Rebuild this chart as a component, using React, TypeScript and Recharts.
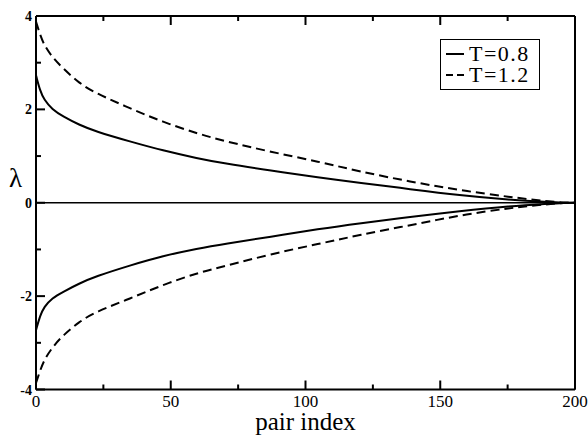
import {
  Legend,
  Line,
  LineChart,
  ReferenceLine,
  XAxis,
  YAxis,
} from "recharts";

// pair index positions sampled along the curves
const pairIndex = [0, 1.5, 3, 6, 10, 16, 22, 35, 47, 60, 70, 87, 105, 120, 139, 157, 176, 190, 196, 200];
const t08Upper = [2.73, 2.4, 2.21, 2.0, 1.85, 1.67, 1.53, 1.31, 1.12, 0.95, 0.84, 0.69, 0.54, 0.43, 0.29, 0.16, 0.06, 0.015, 0, 0];
const t12Upper = [3.88, 3.6, 3.38, 3.12, 2.88, 2.56, 2.35, 2.02, 1.73, 1.48, 1.32, 1.09, 0.88, 0.67, 0.45, 0.27, 0.12, 0.03, 0, 0];
const t08Lower = [-2.73, -2.42, -2.23, -2.04, -1.91, -1.73, -1.58, -1.34, -1.14, -0.98, -0.88, -0.73, -0.56, -0.44, -0.3, -0.18, -0.07, -0.02, 0, 0];
const t12Lower = [-3.86, -3.6, -3.37, -3.1, -2.84, -2.55, -2.34, -2.05, -1.76, -1.5, -1.36, -1.1, -0.88, -0.69, -0.48, -0.27, -0.11, -0.03, 0, 0];

const xTicks = [0, 25, 50, 75, 100, 125, 150, 175, 200];
const yTicks = [-4, -3, -2, -1, 0, 1, 2, 3, 4];
const legendItems = [
  { label: "T=0.8", dash: undefined as string | undefined },
  { label: "T=1.2", dash: "7 4" },
];

const data = pairIndex.map((x, i) => ({
  x,
  a: t08Upper[i],
  b: t12Upper[i],
  c: t08Lower[i],
  d: t12Lower[i],
}));

const FONT = "Liberation Serif, DejaVu Serif, serif";
const M = 5; // tick margin
const DASH = "9 5";

// ticks point into the plot, so they are drawn by hand from the axis position
function BottomTick(props: any) {
  const { x, y, payload } = props;
  const v = payload.value;
  const major = v % 50 === 0;
  const ay = y - M;
  return (
    <g>
      <line x1={x} x2={x} y1={ay} y2={ay - (major ? 9 : 5)} stroke="#000" strokeWidth={2} />
      {major && (
        <text x={x} y={y} dy="0.71em" textAnchor="middle" style={{ fontFamily: FONT }} fontSize={17} fill="#000">
          {v}
        </text>
      )}
    </g>
  );
}

function TopTick(props: any) {
  const { x, y, payload } = props;
  const major = payload.value % 50 === 0;
  const ay = y + M;
  return <line x1={x} x2={x} y1={ay} y2={ay + (major ? 9 : 5)} stroke="#000" strokeWidth={2} />;
}

function LeftTick(props: any) {
  const { x, y, payload } = props;
  const v = payload.value;
  const major = v % 2 === 0;
  const ax = x + M;
  return (
    <g>
      <line x1={ax} x2={ax + (major ? 9 : 5)} y1={y} y2={y} stroke="#000" strokeWidth={2} />
      {major && (
        <text x={x + 1} y={y} dy="0.36em" textAnchor="end" style={{ fontFamily: FONT }} fontWeight="bold" fontSize={14} fill="#000">
          {v}
        </text>
      )}
    </g>
  );
}

function RightTick(props: any) {
  const { x, y, payload } = props;
  const major = payload.value % 2 === 0;
  const ax = x - M;
  return <line x1={ax} x2={ax - (major ? 9 : 5)} y1={y} y2={y} stroke="#000" strokeWidth={2} />;
}

function LegendBox() {
  return (
    <div
      style={{
        border: "1.5px solid #000",
        background: "#fff",
        padding: "3px 4px 4px 4px",
        fontFamily: FONT,
        fontSize: 22,
        color: "#000",
        width: 100,
        boxSizing: "border-box",
      }}
    >
      {legendItems.map((it) => (
        <div key={it.label} style={{ display: "flex", alignItems: "center", height: 21 }}>
          <svg width={20} height={20} style={{ marginRight: 4, flex: "none" }}>
            <line x1={1} x2={19} y1={10} y2={10} stroke="#000" strokeWidth={2} strokeDasharray={it.dash} />
          </svg>
          <span style={{ lineHeight: "21px", letterSpacing: 1.5, whiteSpace: "nowrap" }}>{it.label}</span>
        </div>
      ))}
    </div>
  );
}

export default function App() {
  return (
    <div style={{ position: "absolute", left: 0, top: 0, width: 588, height: 437, background: "#fff", fontFamily: FONT }}>
      <LineChart width={588} height={437} data={data} margin={{ top: 0, right: 0, bottom: 0, left: 0 }}>
        <XAxis
          dataKey="x"
          type="number"
          domain={[0, 200]}
          ticks={xTicks}
          height={47.5}
          tickSize={0}
          tickMargin={M}
          tickLine={false}
          axisLine={{ stroke: "#000", strokeWidth: 2 }}
          tick={<BottomTick />}
          interval={0}
          label={{ value: "pair index", position: "insideBottom", offset: 7, style: { fontFamily: FONT }, fontSize: 25, fill: "#000" }}
        />
        <XAxis
          xAxisId="top"
          orientation="top"
          dataKey="x"
          type="number"
          domain={[0, 200]}
          ticks={xTicks}
          height={16}
          tickSize={0}
          tickMargin={M}
          tickLine={false}
          axisLine={{ stroke: "#000", strokeWidth: 2 }}
          tick={<TopTick />}
          interval={0}
        />
        <YAxis
          type="number"
          domain={[-4, 4]}
          ticks={yTicks}
          width={36}
          tickSize={0}
          tickMargin={M}
          tickLine={false}
          axisLine={{ stroke: "#000", strokeWidth: 2 }}
          tick={<LeftTick />}
          interval={0}
          label={{ value: "λ", position: "insideLeft", offset: 9, dy: -25, style: { fontFamily: FONT }, fontSize: 27, fill: "#000" }}
        />
        <YAxis
          yAxisId="right"
          orientation="right"
          type="number"
          domain={[-4, 4]}
          ticks={yTicks}
          width={13}
          tickSize={0}
          tickMargin={M}
          tickLine={false}
          axisLine={{ stroke: "#000", strokeWidth: 2 }}
          tick={<RightTick />}
          interval={0}
        />
        <ReferenceLine y={0} stroke="#000" strokeWidth={1.5} />
        <Line dataKey="a" name="T=0.8" type="basis" stroke="#000" strokeWidth={2} dot={false} isAnimationActive={false} />
        <Line dataKey="b" name="T=1.2" type="basis" stroke="#000" strokeWidth={2} strokeDasharray={DASH} dot={false} isAnimationActive={false} />
        <Line dataKey="c" name="T=0.8 lower" legendType="none" type="basis" stroke="#000" strokeWidth={2} dot={false} isAnimationActive={false} />
        <Line dataKey="d" name="T=1.2 lower" legendType="none" type="basis" stroke="#000" strokeWidth={2} strokeDasharray={DASH} dot={false} isAnimationActive={false} />
        <Legend
          layout="vertical"
          align="center"
          verticalAlign="middle"
          content={<LegendBox />}
          wrapperStyle={{ position: "absolute", left: 440, top: 39, width: "auto" }}
        />
      </LineChart>
    </div>
  );
}
